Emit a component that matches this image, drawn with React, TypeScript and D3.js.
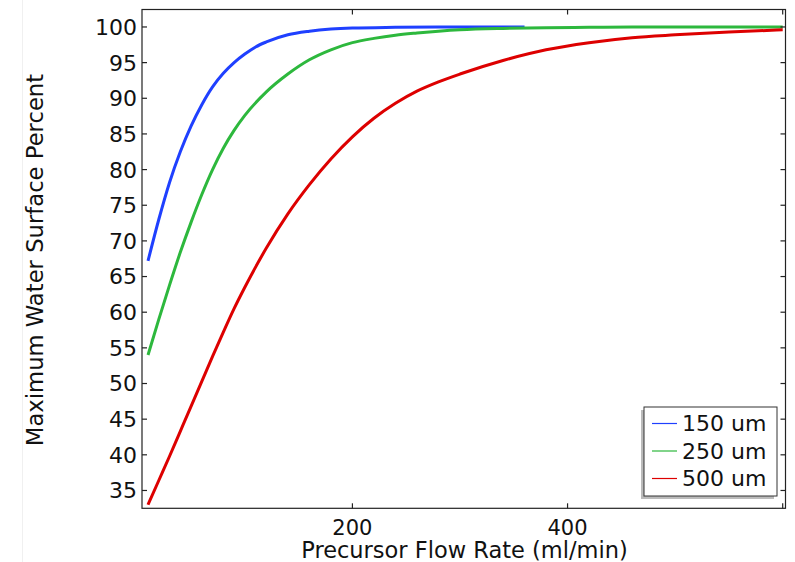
import React, { useEffect, useRef } from 'react';
import * as d3 from 'd3';

// flow rate (ml/min) sample points
const flowRates150 = [10, 20, 30, 40, 50, 60, 70, 80, 90, 100, 110, 120, 140, 160, 180, 200, 240, 280, 320, 360];
const surface150 = [67.2, 73.0, 78.2, 82.5, 86.1, 89.1, 91.6, 93.5, 95.0, 96.2, 97.2, 97.9, 98.9, 99.4, 99.7, 99.85, 99.95, 100, 100, 100];

const flowRates = [10, 20, 30, 40, 50, 60, 70, 80, 90, 100, 120, 140, 160, 180, 200, 220, 240, 260, 280, 300, 340, 380, 420, 460, 500, 550, 600];
const surface250 = [54.0, 59.0, 63.8, 68.4, 72.6, 76.5, 80.0, 83.0, 85.5, 87.6, 90.9, 93.4, 95.4, 96.8, 97.8, 98.4, 98.85, 99.15, 99.4, 99.6, 99.8, 99.9, 99.95, 100, 100, 100, 100];
const surface500 = [33.0, 36.4, 39.8, 43.3, 46.8, 50.3, 53.8, 57.2, 60.5, 63.5, 69.0, 73.8, 77.9, 81.5, 84.6, 87.2, 89.3, 91.0, 92.3, 93.4, 95.3, 96.8, 97.8, 98.5, 98.9, 99.3, 99.6];

const seriesNames = ['150 um', '250 um', '500 um'];
const seriesColors = ['#1f40ff', '#2db83d', '#dd0000'];

const xTicks = [200, 400, 600];
const xTickLabels = ['200', '400', ''];
const yTicks = [35, 40, 45, 50, 55, 60, 65, 70, 75, 80, 85, 90, 95, 100];

const W = 795;
const H = 562;
const FONT = 'DejaVu Sans, sans-serif';

const App = () => {
    const ref = useRef<SVGSVGElement>(null);

    useEffect(() => {
        const svg = d3.select(ref.current);
        svg.selectAll('*').remove();

        const left = 142, right = 785.5, top = 9.5, bottom = 508.3;

        const x = d3.scaleLinear().domain([4.4, 602.6]).range([left, right]);
        const y = d3.scaleLinear().domain([32.5, 102.45]).range([bottom, top]);

        svg.append('rect').attr('width', W).attr('height', H).attr('fill', '#fff');

        // faint panel edge from the screenshot
        svg.append('line')
            .attr('x1', 22.5).attr('x2', 22.5).attr('y1', 0).attr('y2', H)
            .attr('stroke', '#f0f0f0');

        const series = [
            { xs: flowRates150, ys: surface150 },
            { xs: flowRates, ys: surface250 },
            { xs: flowRates, ys: surface500 },
        ];

        const line = d3.line<[number, number]>()
            .x(d => x(d[0]))
            .y(d => y(d[1]))
            .curve(d3.curveMonotoneX);

        series.forEach((s, i) => {
            const pts = s.xs.map((v, j) => [v, s.ys[j]] as [number, number]);
            svg.append('path')
                .attr('d', line(pts))
                .attr('fill', 'none')
                .attr('stroke', seriesColors[i])
                .attr('stroke-width', 3)
                .attr('stroke-linejoin', 'round');
        });

        // frame
        svg.append('rect')
            .attr('x', left).attr('y', top)
            .attr('width', right - left).attr('height', bottom - top)
            .attr('fill', 'none').attr('stroke', '#222').attr('stroke-width', 1.2);

        const tickLen = 5;
        const g = svg.append('g').attr('stroke', '#222').attr('stroke-width', 1.2);
        yTicks.forEach(t => {
            g.append('line').attr('x1', left).attr('x2', left + tickLen).attr('y1', y(t)).attr('y2', y(t));
            g.append('line').attr('x1', right).attr('x2', right - tickLen).attr('y1', y(t)).attr('y2', y(t));
        });
        xTicks.forEach(t => {
            g.append('line').attr('x1', x(t)).attr('x2', x(t)).attr('y1', bottom).attr('y2', bottom - tickLen);
            g.append('line').attr('x1', x(t)).attr('x2', x(t)).attr('y1', top).attr('y2', top + tickLen);
        });

        svg.selectAll('.ylab')
            .data(yTicks)
            .enter()
            .append('text')
            .attr('x', left - 5)
            .attr('y', d => y(d))
            .attr('dy', '0.36em')
            .attr('text-anchor', 'end')
            .attr('font-family', FONT)
            .attr('font-size', 22)
            .attr('fill', '#111')
            .text(d => String(d));

        svg.selectAll('.xlab')
            .data(xTicks)
            .enter()
            .append('text')
            .attr('x', d => x(d))
            .attr('y', 534.5)
            .attr('text-anchor', 'middle')
            .attr('font-family', FONT)
            .attr('font-size', 21)
            .attr('fill', '#111')
            .text((d, i) => xTickLabels[i]);

        svg.append('text')
            .attr('x', 464.5)
            .attr('y', 557.5)
            .attr('text-anchor', 'middle')
            .attr('font-family', FONT)
            .attr('font-size', 22.5)
            .attr('fill', '#111')
            .text('Precursor Flow Rate (ml/min)');

        svg.append('text')
            .attr('transform', 'translate(43,260) rotate(-90)')
            .attr('text-anchor', 'middle')
            .attr('font-family', FONT)
            .attr('font-size', 22.7)
            .attr('fill', '#111')
            .text('Maximum Water Surface Percent');

        // legend
        const lx = 644, ly = 407, lw = 133, lh = 89;
        svg.append('rect')
            .attr('x', lx - 3).attr('y', ly + 3).attr('width', lw).attr('height', lh)
            .attr('fill', '#bbb');
        svg.append('rect')
            .attr('x', lx).attr('y', ly).attr('width', lw).attr('height', lh)
            .attr('fill', '#fff').attr('stroke', '#333').attr('stroke-width', 1);
        seriesNames.forEach((name, i) => {
            const cy = 423.5 + i * 27.5;
            svg.append('line')
                .attr('x1', lx + 8).attr('x2', lx + 33).attr('y1', cy).attr('y2', cy)
                .attr('stroke', seriesColors[i]).attr('stroke-width', 1.2);
            svg.append('text')
                .attr('x', lx + 38).attr('y', cy)
                .attr('dy', '0.36em')
                .attr('font-family', FONT)
                .attr('font-size', 22)
                .attr('fill', '#111')
                .text(name);
        });
    }, []);

    return <svg ref={ref} width={W} height={H} style={{ position: 'absolute', left: 0, top: 0 }}></svg>;
};

export default App;
